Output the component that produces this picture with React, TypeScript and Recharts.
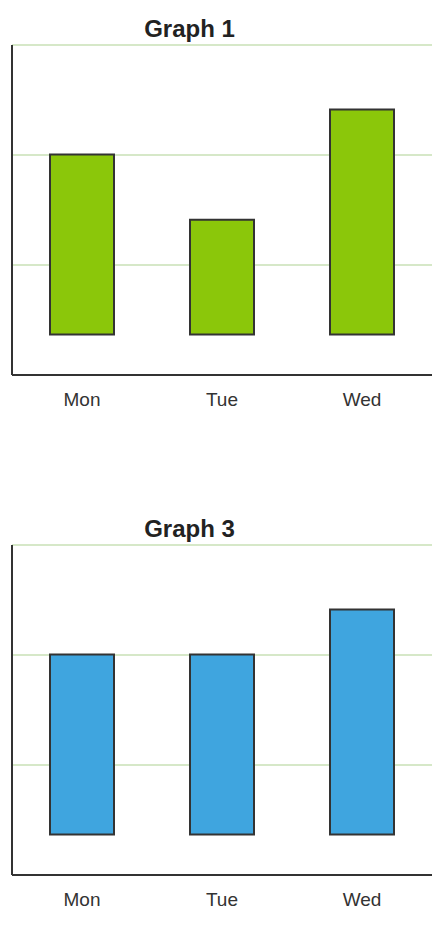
import React from 'react';
import { BarChart, Bar, XAxis, YAxis, CartesianGrid } from 'recharts';

const days = ['Mon', 'Tue', 'Wed'];
const graph1Values = [4, 2.55, 5];
const graph3Values = [4, 4, 5];
const yDomain: [number, number] = [-0.9, 6.4333];
const yTicks = [-0.9, 1.5444, 3.9889, 6.4333];
const titles = ['Graph 1', 'Graph 3'];
const colors = ['#8bc70a', '#3fa5df'];

const FONT = '"Liberation Sans", Arial, sans-serif';

const NoTick = () => <g />;

function Panel({ title, values, color, top }: { title: string; values: number[]; color: string; top: number }) {
  const data = days.map((d, i) => ({ day: d, value: values[i] }));
  return (
    <div style={{ position: 'absolute', left: 0, top, width: 434, height: 410 }}>
      <div
        style={{
          position: 'absolute',
          left: 0,
          top: 9,
          width: 363,
          textAlign: 'center',
          fontSize: 24,
          lineHeight: '24px',
          fontWeight: 'bold',
          color: '#222',
          fontFamily: FONT,
        }}
      >
        {title}
      </div>
      <BarChart width={434} height={410} data={data} margin={{ top: 37, right: 10, left: 3, bottom: 13 }}>
        <CartesianGrid vertical={false} stroke="#d6e8c8" strokeWidth={2} />
        <XAxis
          dataKey="day"
          height={30}
          tickLine={false}
          tickSize={6}
          tickMargin={12}
          axisLine={{ stroke: '#333', strokeWidth: 2 }}
          tick={{ fill: '#333', fontSize: 19, fontFamily: FONT }}
        />
        <YAxis
          type="number"
          domain={yDomain}
          ticks={yTicks}
          interval={0}
          allowDataOverflow
          width={1}
          tick={NoTick}
          tickLine={false}
          axisLine={{ stroke: '#333', strokeWidth: 2 }}
        />
        <Bar dataKey="value" fill={color} stroke="#333" strokeWidth={2} barSize={64} isAnimationActive={false} />
      </BarChart>
    </div>
  );
}

export default function App() {
  return (
    <div style={{ position: 'relative', width: 434, height: 909, fontFamily: FONT }}>
      <Panel title={titles[0]} values={graph1Values} color={colors[0]} top={0} />
      <Panel title={titles[1]} values={graph3Values} color={colors[1]} top={500} />
    </div>
  );
}
